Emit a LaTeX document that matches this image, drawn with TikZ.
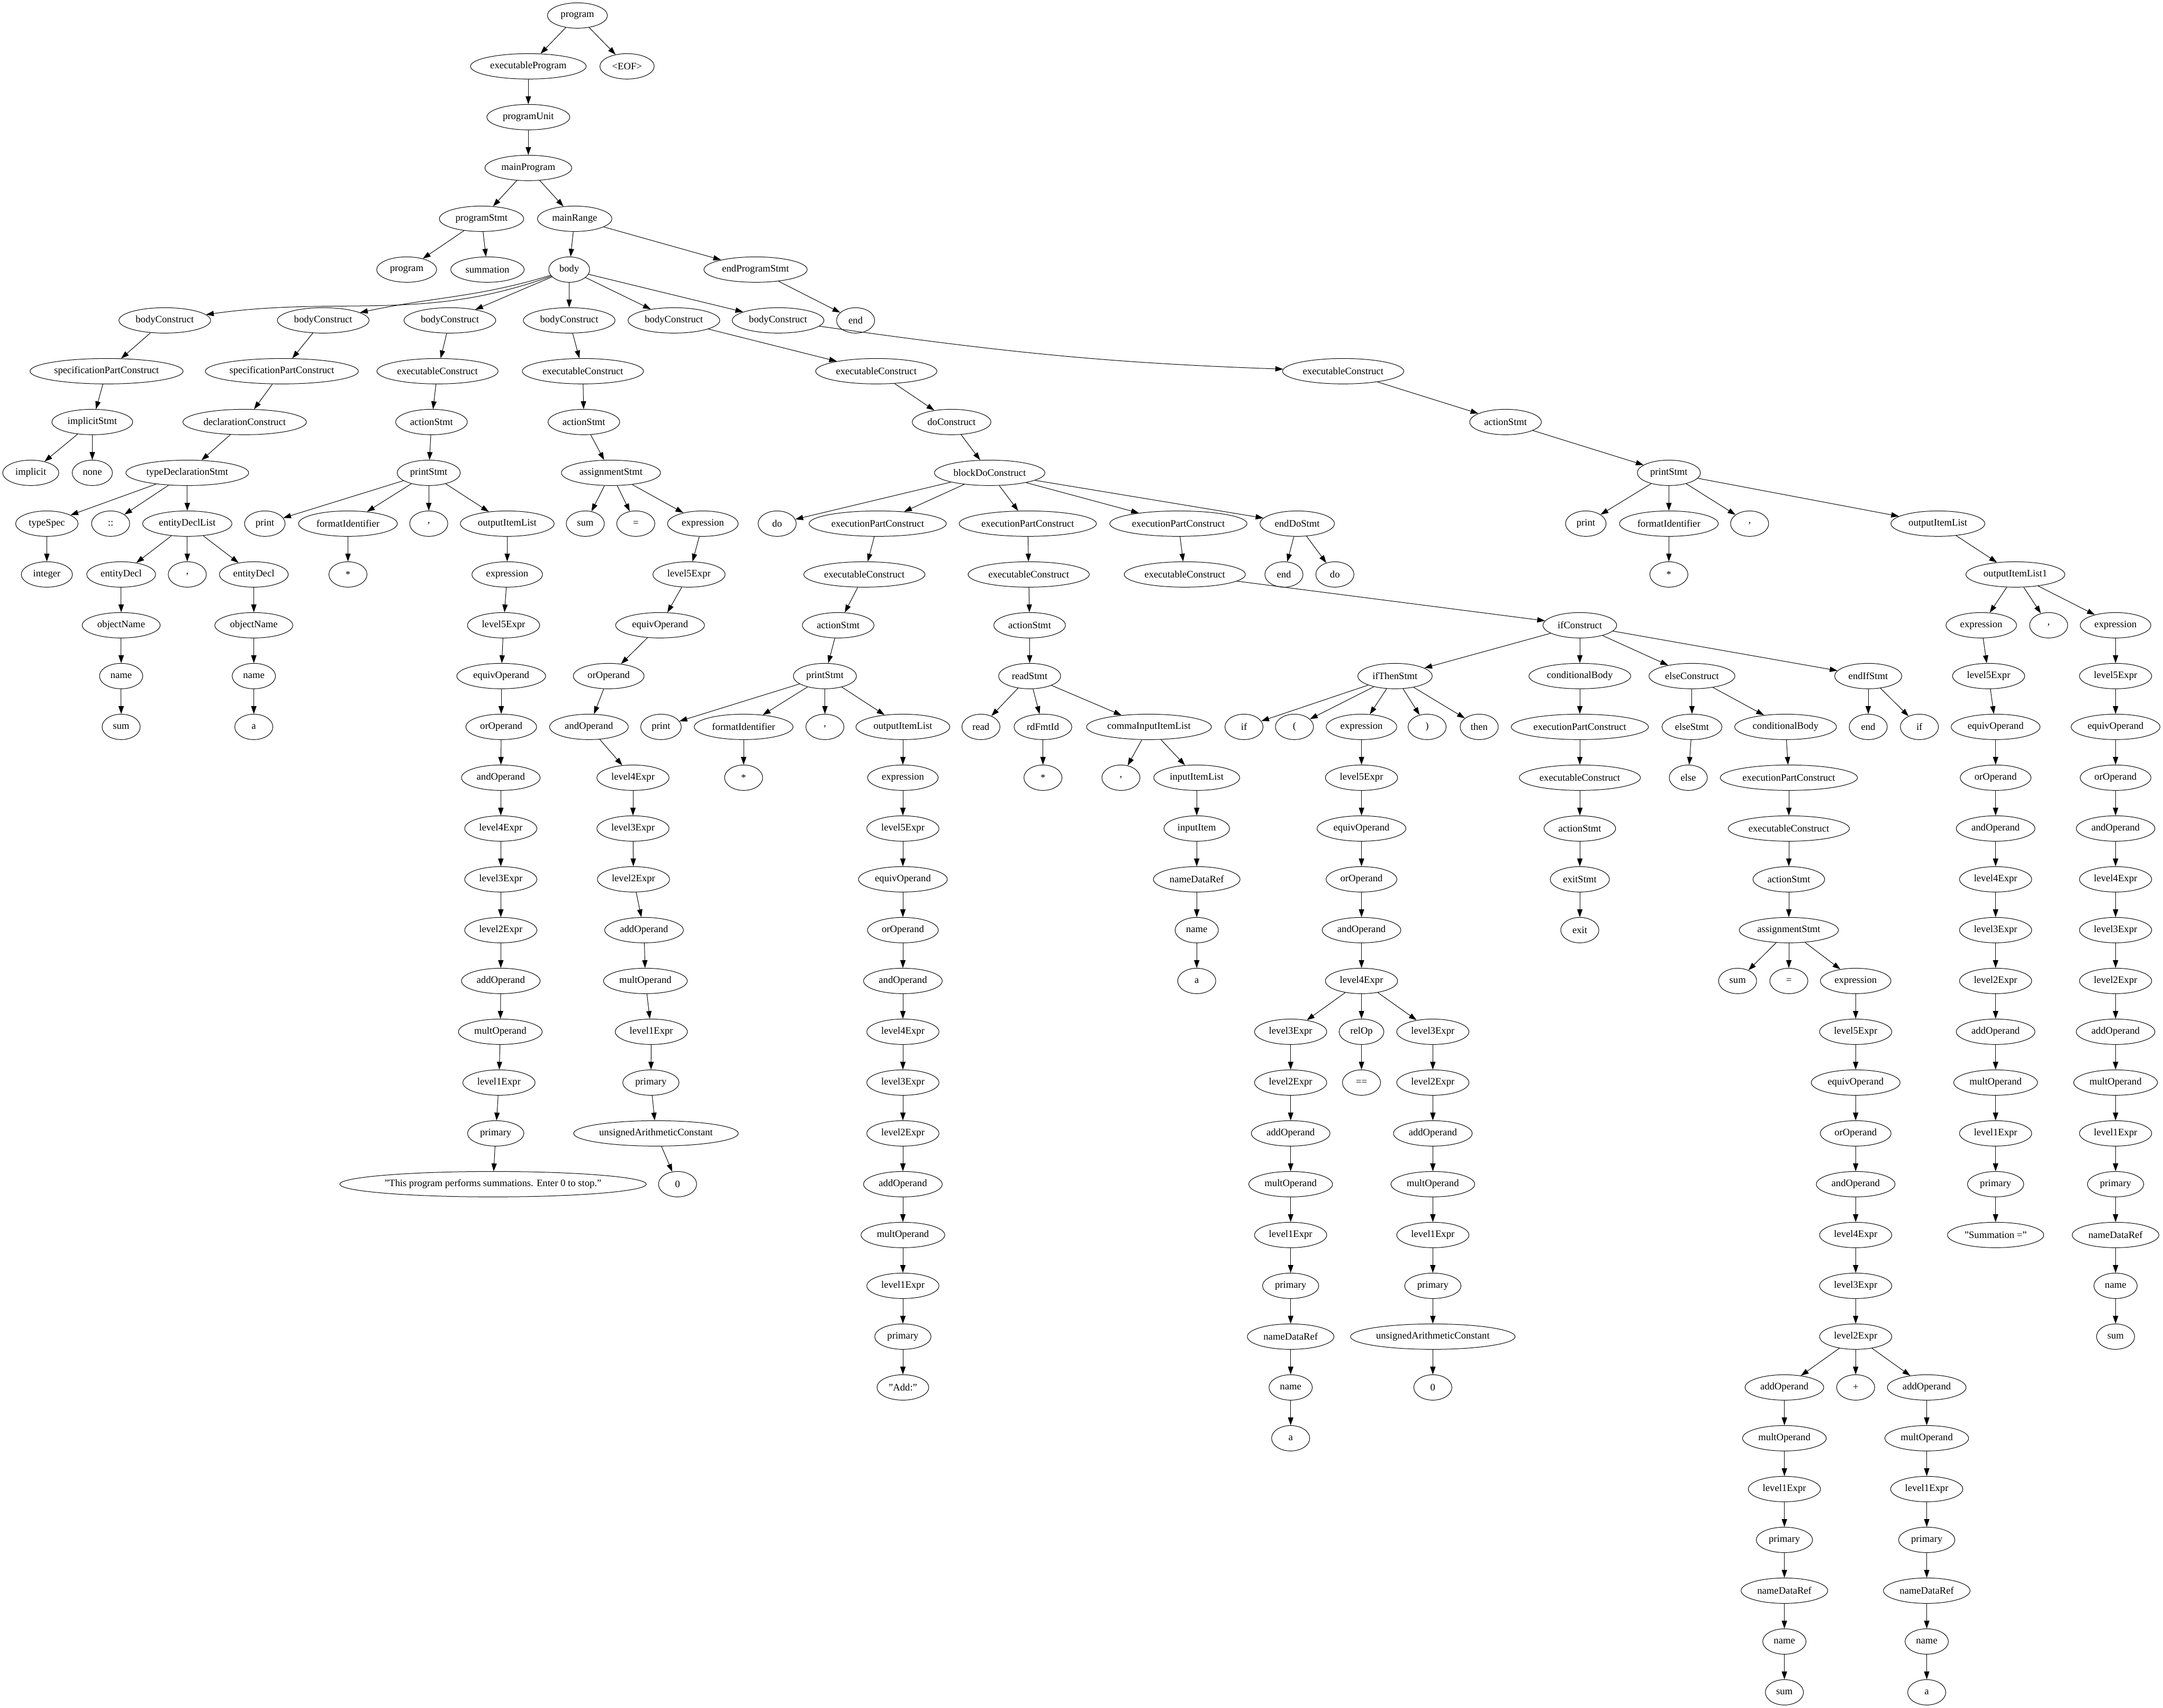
\documentclass[tikz,border=0pt]{standalone}
\usepackage{fontspec}
\setmainfont{Liberation Serif}
\usetikzlibrary{arrows.meta,shapes.geometric}
\newcommand\TNfont{\fontsize{14pt}{16pt}\selectfont}
\newcommand\SetW[2]{\expandafter\def\csname TW@#1\endcsname{#2}}
\SetW{program}{85}
\SetW{executableProgram}{164}
\SetW{<EOF>}{77}
\SetW{programUnit}{117.5}
\SetW{mainProgram}{123}
\SetW{programStmt}{119.5}
\SetW{mainRange}{105.4}
\SetW{summation}{104}
\SetW{body}{58}
\SetW{endProgramStmt}{146.4}
\SetW{bodyConstruct}{130}
\SetW{specificationPartConstruct}{217}
\SetW{implicitStmt}{114.5}
\SetW{implicit}{79.5}
\SetW{none}{57}
\SetW{declarationConstruct}{175}
\SetW{typeDeclarationStmt}{174}
\SetW{typeSpec}{88.5}
\SetW{entityDeclList}{126.5}
\SetW{integer}{72.5}
\SetW{entityDecl}{97.5}
\SetW{objectName}{110.5}
\SetW{name}{61.4}
\SetW{executableConstruct}{171.8}
\SetW{actionStmt}{101.5}
\SetW{printStmt}{89.5}
\SetW{print}{57.5}
\SetW{formatIdentifier}{140}
\SetW{outputItemList}{133}
\SetW{expression}{100}
\SetW{level5Expr}{102.3}
\SetW{level4Expr}{102.3}
\SetW{level3Expr}{102.3}
\SetW{level2Expr}{102.3}
\SetW{level1Expr}{102.3}
\SetW{equivOperand}{125.9}
\SetW{orOperand}{100.3}
\SetW{andOperand}{111.5}
\SetW{addOperand}{111.5}
\SetW{multOperand}{118.7}
\SetW{primary}{79.8}
\SetW{"This program performs summations. Enter 0 to stop."}{430}
\SetW{assignmentStmt}{140.5}
\SetW{unsignedArithmeticConstant}{233.4}
\SetW{doConstruct}{111.5}
\SetW{blockDoConstruct}{156.6}
\SetW{executionPartConstruct}{194.5}
\SetW{endDoStmt}{105.4}
\SetW{readStmt}{88}
\SetW{rdFmtId}{81.9}
\SetW{commaInputItemList}{177.1}
\SetW{inputItemList}{121.8}
\SetW{inputItem}{93.1}
\SetW{nameDataRef}{122.8}
\SetW{ifConstruct}{104.4}
\SetW{ifThenStmt}{105.4}
\SetW{conditionalBody}{144.3}
\SetW{elseConstruct}{121.8}
\SetW{endIfStmt}{95.2}
\SetW{relOp}{63.5}
\SetW{exitStmt}{84}
\SetW{elseStmt}{85}
\SetW{outputItemList1}{140.2}
\SetW{"Summation ="}{136.5}
\SetW{"Add:"}{73.4}
\tikzset{
  tn/.style={draw, ellipse, inner xsep=0pt, inner ysep=0pt, minimum height=36pt, line width=0.75pt, font=\TNfont},
  edge/.style={-{Triangle[length=11pt,width=7.5pt]}, line width=0.75pt}
}
\newcommand\TNode[4]{%
  \ifcsname TW@#4\endcsname\edef\TNmw{\csname TW@#4\endcsname pt}\else\def\TNmw{54pt}\fi
  \pgfmathsetmacro\TNy{-(22+72*#3)}%
  \node[tn,minimum width=\TNmw] (#1) at (#2pt,\TNy pt) {#4};}
\newcommand\TChild[5]{\TNode{#1}{#3}{#4}{#5}\draw[edge] (#2) -- (#1);}
\begin{document}
\begin{tikzpicture}
\fill[white] (0pt,0pt) rectangle (3065.25pt,-2420pt);
\useasboundingbox (0pt,0pt) rectangle (3065.25pt,-2420pt);
% top
\TNode{r0}{818.3}{0}{program}
\TChild{ep}{r0}{748.7}{1}{executableProgram}
\TChild{eof}{r0}{888.6}{1}{<EOF>}
\TChild{pu}{ep}{748.7}{2}{programUnit}
\TChild{mp}{pu}{748.7}{3}{mainProgram}
\TChild{ps}{mp}{682.4}{4}{programStmt}
\TChild{mr}{mp}{814.4}{4}{mainRange}
\TChild{psk}{ps}{576.3}{5}{program}
\TChild{psn}{ps}{690.8}{5}{summation}
\TChild{body}{mr}{806.6}{5}{body}
\TChild{eps}{mr}{1070.7}{5}{endProgramStmt}
\TChild{epe}{eps}{1212.5}{6}{end}
\TNode{bc1}{233.5}{6}{bodyConstruct}
\TNode{bc2}{458}{6}{bodyConstruct}
\draw[edge] (body) to[out=200,in=8] (bc1);
\draw[edge] (body) to[out=197,in=12] (bc2);
\TChild{bc3}{body}{637.5}{6}{bodyConstruct}
\TChild{bc4}{body}{806.6}{6}{bodyConstruct}
\TChild{bc5}{body}{955}{6}{bodyConstruct}
\TChild{bc6}{body}{1102.6}{6}{bodyConstruct}
% bodyConstruct 1
\TChild{a1}{bc1}{151}{7}{specificationPartConstruct}
\TChild{a2}{a1}{130.8}{8}{implicitStmt}
\TChild{a3}{a2}{43.6}{9}{implicit}
\TChild{a4}{a2}{130.8}{9}{none}
% bodyConstruct 2
\TChild{b1}{bc2}{399.4}{7}{specificationPartConstruct}
\TChild{b2}{b1}{346.7}{8}{declarationConstruct}
\TChild{b3}{b2}{265.4}{9}{typeDeclarationStmt}
\TChild{b4}{b3}{66.4}{10}{typeSpec}
\TChild{b5}{b3}{156.8}{10}{::}
\TChild{b6}{b3}{265.4}{10}{entityDeclList}
\TChild{b7}{b4}{66.4}{11}{integer}
\TChild{b8}{b6}{171.7}{11}{entityDecl}
\TChild{b9}{b6}{265.4}{11}{,}
\TChild{b10}{b6}{359.7}{11}{entityDecl}
\TChild{b11}{b8}{171.7}{12}{objectName}
\TChild{b12}{b11}{171.7}{13}{name}
\TChild{b13}{b12}{171.7}{14}{sum}
\TChild{b14}{b10}{359.7}{12}{objectName}
\TChild{b15}{b14}{359.7}{13}{name}
\TChild{b16}{b15}{359.7}{14}{a}
% bodyConstruct 3
\TChild{c1}{bc3}{620}{7}{executableConstruct}
\TChild{c2}{c1}{611.5}{8}{actionStmt}
\TChild{c3}{c2}{607.6}{9}{printStmt}
\TChild{c4}{c3}{375.3}{10}{print}
\TChild{c5}{c3}{493.1}{10}{formatIdentifier}
\TChild{c6}{c3}{607.6}{10}{,}
\TChild{c7}{c3}{718.8}{10}{outputItemList}
\TChild{c8}{c5}{493.1}{11}{*}
\TChild{c9}{c7}{718.8}{11}{expression}
\TChild{c10}{c9}{713.6}{12}{level5Expr}
\TChild{c11}{c10}{710.3}{13}{equivOperand}
\TChild{c12}{c11}{710.3}{14}{orOperand}
\TChild{c13}{c12}{709.7}{15}{andOperand}
\TChild{c14}{c13}{709.7}{16}{level4Expr}
\TChild{c15}{c14}{709.7}{17}{level3Expr}
\TChild{c16}{c15}{709.7}{18}{level2Expr}
\TChild{c17}{c16}{709.7}{19}{addOperand}
\TChild{c18}{c17}{709}{20}{multOperand}
\TChild{c19}{c18}{707.1}{21}{level1Expr}
\TChild{c20}{c19}{702.5}{22}{primary}
\TChild{c21}{c20}{698.7}{23}{"This program performs summations. Enter 0 to stop."}
% bodyConstruct 4
\TChild{d1}{bc4}{826}{7}{executableConstruct}
\TChild{d2}{d1}{827.4}{8}{actionStmt}
\TChild{d3}{d2}{865.8}{9}{assignmentStmt}
\TChild{d4}{d3}{829.4}{10}{sum}
\TChild{d5}{d3}{901}{10}{=}
\TChild{d6}{d3}{996}{10}{expression}
\TChild{d7}{d6}{976.4}{11}{level5Expr}
\TChild{d8}{d7}{935.4}{12}{equivOperand}
\TChild{d9}{d8}{862.6}{13}{orOperand}
\TChild{d10}{d9}{834.6}{14}{andOperand}
\TChild{d11}{d10}{897}{15}{level4Expr}
\TChild{d12}{d11}{897}{16}{level3Expr}
\TChild{d13}{d12}{897.7}{17}{level2Expr}
\TChild{d14}{d13}{912.7}{18}{addOperand}
\TChild{d15}{d14}{914.6}{19}{multOperand}
\TChild{d16}{d15}{923}{20}{level1Expr}
\TChild{d17}{d16}{922.4}{21}{primary}
\TChild{d18}{d17}{929.6}{22}{unsignedArithmeticConstant}
\TChild{d19}{d18}{960.2}{23}{0}
% bodyConstruct 5
\TChild{e1}{bc5}{1241.8}{7}{executableConstruct}
\TChild{e2}{e1}{1348.5}{8}{doConstruct}
\TChild{e3}{e2}{1402.5}{9}{blockDoConstruct}
\TChild{e4}{e3}{1101.3}{10}{do}
\TChild{e5}{e3}{1243.8}{10}{executionPartConstruct}
\TChild{e6}{e3}{1456.5}{10}{executionPartConstruct}
\TChild{e7}{e3}{1669.9}{10}{executionPartConstruct}
\TChild{e8}{e3}{1838.3}{10}{endDoStmt}
\TChild{e9}{e8}{1819.5}{11}{end}
\TChild{e10}{e8}{1891.7}{11}{do}
% execution part 1
\TChild{f1}{e5}{1224.9}{11}{executableConstruct}
\TChild{f2}{f1}{1187.8}{12}{actionStmt}
\TChild{f3}{f2}{1169}{13}{printStmt}
\TChild{f4}{f3}{936.7}{14}{print}
\TChild{f5}{f3}{1053.8}{14}{formatIdentifier}
\TChild{f6}{f3}{1169}{14}{,}
\TChild{f7}{f3}{1279.5}{14}{outputItemList}
\TChild{f8}{f5}{1053.8}{15}{*}
\TChild{f9}{f7}{1279.5}{15}{expression}
\TChild{f10}{f9}{1279.5}{16}{level5Expr}
\TChild{f11}{f10}{1279.5}{17}{equivOperand}
\TChild{f12}{f11}{1279.5}{18}{orOperand}
\TChild{f13}{f12}{1279.5}{19}{andOperand}
\TChild{f14}{f13}{1279.5}{20}{level4Expr}
\TChild{f15}{f14}{1279.5}{21}{level3Expr}
\TChild{f16}{f15}{1279.5}{22}{level2Expr}
\TChild{f17}{f16}{1279.5}{23}{addOperand}
\TChild{f18}{f17}{1279.5}{24}{multOperand}
\TChild{f19}{f18}{1279.5}{25}{level1Expr}
\TChild{f20}{f19}{1279.5}{26}{primary}
\TChild{f21}{f20}{1279.5}{27}{"Add:"}
% execution part 2
\TChild{g1}{e6}{1457.8}{11}{executableConstruct}
\TChild{g2}{g1}{1459.1}{12}{actionStmt}
\TChild{g3}{g2}{1459.1}{13}{readStmt}
\TChild{g4}{g3}{1390.1}{14}{read}
\TChild{g5}{g3}{1478}{14}{rdFmtId}
\TChild{g6}{g3}{1628.2}{14}{commaInputItemList}
\TChild{g7}{g5}{1478}{15}{*}
\TChild{g8}{g6}{1588.5}{15}{,}
\TChild{g9}{g6}{1695.9}{15}{inputItemList}
\TChild{g10}{g9}{1695.9}{16}{inputItem}
\TChild{g11}{g10}{1695.9}{17}{nameDataRef}
\TChild{g12}{g11}{1695.9}{18}{name}
\TChild{g13}{g12}{1695.9}{19}{a}
% execution part 3
\TChild{h1}{e7}{1679}{11}{executableConstruct}
\TChild{h2}{h1}{2238.8}{12}{ifConstruct}
\TChild{h3}{h2}{1976.9}{13}{ifThenStmt}
\TChild{h4}{h2}{2238.8}{13}{conditionalBody}
\TChild{h5}{h2}{2397.7}{13}{elseConstruct}
\TChild{h6}{h2}{2647.5}{13}{endIfStmt}
\TChild{h7}{h3}{1762.9}{14}{if}
\TChild{h8}{h3}{1834.4}{14}{(}
\TChild{h9}{h3}{1929.4}{14}{expression}
\TChild{h10}{h3}{2022.4}{14}{)}
\TChild{h11}{h3}{2096.2}{14}{then}
\TChild{h12}{h9}{1929.4}{15}{level5Expr}
\TChild{h13}{h12}{1929.4}{16}{equivOperand}
\TChild{h14}{h13}{1929.4}{17}{orOperand}
\TChild{h15}{h14}{1929.4}{18}{andOperand}
\TChild{h16}{h15}{1929.4}{19}{level4Expr}
\TChild{h17}{h16}{1829}{20}{level3Expr}
\TChild{h18}{h16}{1929.4}{20}{relOp}
\TChild{h19}{h16}{2030.5}{20}{level3Expr}
\TChild{h20}{h17}{1829}{21}{level2Expr}
\TChild{h21}{h18}{1929.4}{21}{==}
\TChild{h22}{h19}{2030.5}{21}{level2Expr}
\TChild{h23}{h20}{1829}{22}{addOperand}
\TChild{h24}{h22}{2030.5}{22}{addOperand}
\TChild{h25}{h23}{1829}{23}{multOperand}
\TChild{h26}{h24}{2030.5}{23}{multOperand}
\TChild{h27}{h25}{1829}{24}{level1Expr}
\TChild{h28}{h26}{2030.5}{24}{level1Expr}
\TChild{h29}{h27}{1829}{25}{primary}
\TChild{h30}{h28}{2030.5}{25}{primary}
\TChild{h31}{h29}{1829}{26}{nameDataRef}
\TChild{h32}{h30}{2030.5}{26}{unsignedArithmeticConstant}
\TChild{h33}{h31}{1829}{27}{name}
\TChild{h34}{h32}{2030.5}{27}{0}
\TChild{h35}{h33}{1829}{28}{a}
% conditional body (then)
\TChild{i1}{h4}{2238.8}{14}{executionPartConstruct}
\TChild{i2}{i1}{2238.8}{15}{executableConstruct}
\TChild{i3}{i2}{2238.8}{16}{actionStmt}
\TChild{i4}{i3}{2238.8}{17}{exitStmt}
\TChild{i5}{i4}{2238.8}{18}{exit}
% else construct
\TChild{j1}{h5}{2397.7}{14}{elseStmt}
\TChild{j2}{j1}{2392.5}{15}{else}
\TChild{j3}{h5}{2530.4}{14}{conditionalBody}
\TChild{j4}{j3}{2535}{15}{executionPartConstruct}
\TChild{j5}{j4}{2535}{16}{executableConstruct}
\TChild{j6}{j5}{2535}{17}{actionStmt}
\TChild{j7}{j6}{2535}{18}{assignmentStmt}
\TChild{j8}{j7}{2462.4}{19}{sum}
\TChild{j9}{j7}{2535}{19}{=}
\TChild{j10}{j7}{2629.7}{19}{expression}
\TChild{j11}{j10}{2629.7}{20}{level5Expr}
\TChild{j12}{j11}{2629.7}{21}{equivOperand}
\TChild{j13}{j12}{2629.7}{22}{orOperand}
\TChild{j14}{j13}{2629.7}{23}{andOperand}
\TChild{j15}{j14}{2629.7}{24}{level4Expr}
\TChild{j16}{j15}{2629.7}{25}{level3Expr}
\TChild{j17}{j16}{2629.7}{26}{level2Expr}
\TChild{j18}{j17}{2528.7}{27}{addOperand}
\TChild{j19}{j17}{2629.7}{27}{+}
\TChild{j20}{j17}{2730.4}{27}{addOperand}
\TChild{j21}{j18}{2528.7}{28}{multOperand}
\TChild{j22}{j21}{2528.7}{29}{level1Expr}
\TChild{j23}{j22}{2528.7}{30}{primary}
\TChild{j24}{j23}{2528.7}{31}{nameDataRef}
\TChild{j25}{j24}{2528.7}{32}{name}
\TChild{j26}{j25}{2528.7}{33}{sum}
\TChild{j27}{j20}{2730.4}{28}{multOperand}
\TChild{j28}{j27}{2730.4}{29}{level1Expr}
\TChild{j29}{j28}{2730.4}{30}{primary}
\TChild{j30}{j29}{2730.4}{31}{nameDataRef}
\TChild{j31}{j30}{2730.4}{32}{name}
\TChild{j32}{j31}{2730.4}{33}{a}
% end if
\TChild{k1}{h6}{2647.5}{14}{end}
\TChild{k2}{h6}{2720}{14}{if}
% bodyConstruct 6
\TNode{m1}{1903.4}{7}{executableConstruct}
\draw[edge] (bc6) to[out=-8,in=178] (m1);
\TChild{m2}{m1}{2133.5}{8}{actionStmt}
\TChild{m3}{m2}{2365}{9}{printStmt}
\TChild{m4}{m3}{2247.3}{10}{print}
\TChild{m5}{m3}{2365}{10}{formatIdentifier}
\TChild{m6}{m3}{2479.4}{10}{,}
\TChild{m7}{m3}{2746.2}{10}{outputItemList}
\TChild{m8}{m5}{2365}{11}{*}
\TChild{m9}{m7}{2856}{11}{outputItemList1}
\TChild{m10}{m9}{2807.7}{12}{expression}
\TChild{m11}{m9}{2903.2}{12}{,}
\TChild{m12}{m9}{2998}{12}{expression}
\TChild{m13}{m10}{2818.1}{13}{level5Expr}
\TChild{m14}{m13}{2828}{14}{equivOperand}
\TChild{m15}{m14}{2828}{15}{orOperand}
\TChild{m16}{m15}{2828}{16}{andOperand}
\TChild{m17}{m16}{2828}{17}{level4Expr}
\TChild{m18}{m17}{2828}{18}{level3Expr}
\TChild{m19}{m18}{2828}{19}{level2Expr}
\TChild{m20}{m19}{2828}{20}{addOperand}
\TChild{m21}{m20}{2828}{21}{multOperand}
\TChild{m22}{m21}{2828}{22}{level1Expr}
\TChild{m23}{m22}{2828}{23}{primary}
\TChild{m24}{m23}{2828}{24}{"Summation ="}
\TChild{m25}{m12}{2998}{13}{level5Expr}
\TChild{m26}{m25}{2998}{14}{equivOperand}
\TChild{m27}{m26}{2998}{15}{orOperand}
\TChild{m28}{m27}{2998}{16}{andOperand}
\TChild{m29}{m28}{2998}{17}{level4Expr}
\TChild{m30}{m29}{2998}{18}{level3Expr}
\TChild{m31}{m30}{2998}{19}{level2Expr}
\TChild{m32}{m31}{2998}{20}{addOperand}
\TChild{m33}{m32}{2998}{21}{multOperand}
\TChild{m34}{m33}{2998}{22}{level1Expr}
\TChild{m35}{m34}{2998}{23}{primary}
\TChild{m36}{m35}{2998}{24}{nameDataRef}
\TChild{m37}{m36}{2998}{25}{name}
\TChild{m38}{m37}{2998}{26}{sum}
\end{tikzpicture}
\end{document}
